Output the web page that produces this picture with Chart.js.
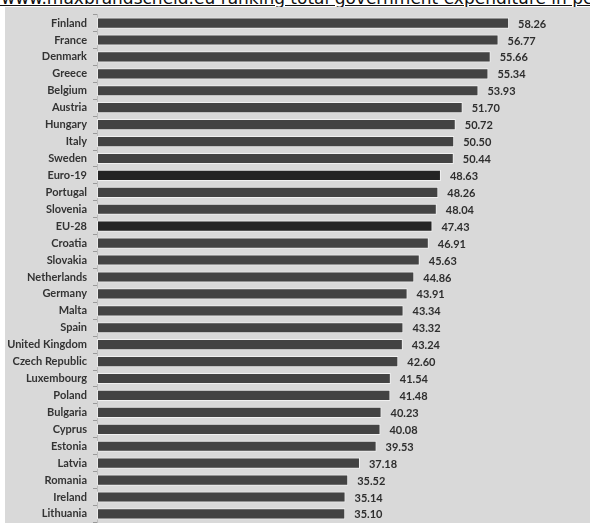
<!DOCTYPE html>
<html>
<head>
<meta charset="utf-8">
<script src="https://cdn.jsdelivr.net/npm/chart.js@4/dist/chart.umd.min.js"></script>
<style>
  html, body { margin: 0; padding: 0; background: #ffffff; width: 590px; height: 523px; overflow: hidden; }
  #title { position: absolute; left: -40px; top: -12px; white-space: nowrap; font-family: "DejaVu Sans", Verdana, sans-serif; font-size: 17px; color: #111; text-decoration: underline; }
  #panel { position: absolute; left: 5px; top: 7px; width: 585px; height: 516px; background: #d9d9d9; overflow: hidden; }
  #panel canvas { display: block; margin-top: -5px; }
</style>
</head>
<body>
<div id="title">ttp://www.maxbrandscheid.eu ranking total government expenditure in percent</div>
<div id="panel"><canvas id="c" width="585" height="533"></canvas></div>
<script>
const categories = ["Finland","France","Denmark","Greece","Belgium","Austria","Hungary","Italy","Sweden","Euro-19","Portugal","Slovenia","EU-28","Croatia","Slovakia","Netherlands","Germany","Malta","Spain","United Kingdom","Czech Republic","Luxembourg","Poland","Bulgaria","Cyprus","Estonia","Latvia","Romania","Ireland","Lithuania"];
const values = [58.26,56.77,55.66,55.34,53.93,51.70,50.72,50.50,50.44,48.63,48.26,48.04,47.43,46.91,45.63,44.86,43.91,43.34,43.32,43.24,42.60,41.54,41.48,40.23,40.08,39.53,37.18,35.52,35.14,35.10];
const aggregates = ["Euro-19","EU-28"];
const xMin = 0, xMax = 69.7;

const barColors = categories.map(c => aggregates.includes(c) ? "#242424" : "#434343");

const valueLabels = {
  id: "valueLabels",
  afterDatasetsDraw(chart) {
    const ctx = chart.ctx;
    const meta = chart.getDatasetMeta(0);
    ctx.save();
    ctx.font = "bold 11px Lato, 'Open Sans', sans-serif";
    ctx.fillStyle = "#2e2e2e";
    ctx.textAlign = "left";
    ctx.textBaseline = "middle";
    meta.data.forEach((bar, i) => {
      ctx.fillText(values[i].toFixed(2), bar.x + 9, bar.y + 1);
    });
    ctx.restore();
  }
};

new Chart(document.getElementById("c"), {
  type: "bar",
  data: {
    labels: categories,
    datasets: [{
      data: values,
      backgroundColor: barColors,
      borderColor: "rgba(245,245,245,0.85)",
      borderWidth: 1,
      borderSkipped: false,
      barPercentage: 0.66,
      categoryPercentage: 1.0
    }]
  },
  options: {
    indexAxis: "y",
    responsive: false,
    animation: false,
    events: [],
    layout: { padding: { top: 0, bottom: 0, left: 0, right: 0 } },
    plugins: { legend: { display: false }, tooltip: { enabled: false } },
    scales: {
      x: { min: xMin, max: xMax, display: false },
      y: {
        afterFit(scale) { scale.width = 92; },
        grid: { display: true, drawOnChartArea: false, drawTicks: true, tickLength: 4, color: "#9a9a9a", offset: true },
        border: { display: true, color: "#bdbdbd", width: 1 },
        ticks: { font: { family: "Lato, 'Open Sans', sans-serif", size: 11, weight: "bold" }, color: "#333333", padding: 6, autoSkip: false }
      }
    }
  },
  plugins: [valueLabels]
});
</script>
</body>
</html>
